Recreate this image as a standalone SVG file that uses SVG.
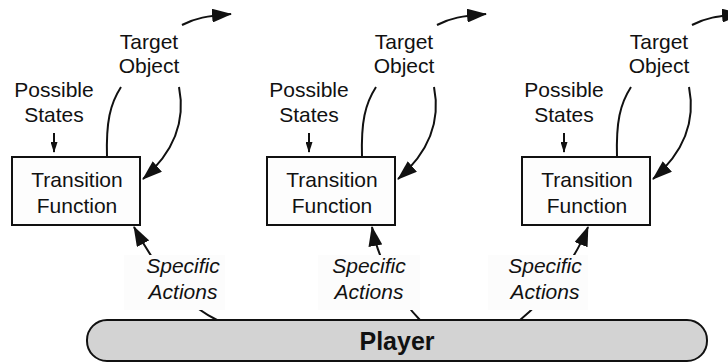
<svg xmlns="http://www.w3.org/2000/svg" width="728" height="362" viewBox="0 0 728 362">
<style>
text{font-family:"Liberation Sans",Arial,Helvetica,sans-serif;font-size:21px;fill:#111;text-anchor:middle}
.it{font-style:italic}
.box{fill:#fdfdfd;stroke:#111;stroke-width:2}
.ln{fill:none;stroke:#111;stroke-width:2}
.lbl{fill:#fcfcfc;stroke:none}
</style>
<defs>
<marker id="lg" viewBox="0 0 20 14" refX="19" refY="7" markerWidth="20" markerHeight="14" markerUnits="userSpaceOnUse" orient="auto"><path d="M0,0 L20,7 L0,14 z" fill="#111"/></marker>
<marker id="sm" viewBox="0 0 11 7" refX="10" refY="3.5" markerWidth="11" markerHeight="7" markerUnits="userSpaceOnUse" orient="auto"><path d="M0,0 L11,3.5 L0,7 z" fill="#111"/></marker>
</defs>
<g id="player">
<rect x="87" y="320" width="620" height="41" rx="20" ry="20" fill="#d3d3d3" stroke="#111" stroke-width="2"/>
<text x="397" y="350" style="font-weight:bold;font-size:25px">Player</text>
</g>
<g id="connectors">
<path class="ln" d="M54,133 L54,152" marker-end="url(#sm)"/>
<path class="ln" d="M309,133 L309,152" marker-end="url(#sm)"/>
<path class="ln" d="M564,133 L564,152" marker-end="url(#sm)"/>
<path class="ln" d="M107,157 C106,122 110,104 121,87"/>
<path class="ln" d="M362,157 C361,122 365,104 376,87"/>
<path class="ln" d="M617,157 C616,122 620,104 631,87"/>
<path class="ln" d="M179,87 C186,122 174,152 143,179" marker-end="url(#lg)"/>
<path class="ln" d="M434,87 C441,122 429,152 398,179" marker-end="url(#lg)"/>
<path class="ln" d="M689,87 C696,122 684,152 653,179" marker-end="url(#lg)"/>
<path class="ln" d="M182,25 C195,18 207,16 231,14" marker-end="url(#lg)"/>
<path class="ln" d="M437,25 C450,18 462,16 486,14" marker-end="url(#lg)"/>
<path class="ln" d="M692,25 C705,18 717,16 741,14" marker-end="url(#lg)"/>
<path class="ln" d="M217,320 C177,301 147,251 134,227" marker-end="url(#lg)"/>
<path class="ln" d="M420,320 C400,300 378,260 372,227" marker-end="url(#lg)"/>
<path class="ln" d="M520,320 C545,300 575,260 588,227" marker-end="url(#lg)"/>
</g>
<g id="labels1">
<rect class="lbl" x="124" y="255" width="101" height="55"/>
<text class="it" x="183" y="273">Specific</text>
<text class="it" x="183" y="299">Actions</text>
<text x="54" y="97">Possible</text>
<text x="54" y="122">States</text>
<text x="149" y="49">Target</text>
<text x="149" y="73">Object</text>
</g>
<g id="labels2">
<rect class="lbl" x="318" y="255" width="102" height="55"/>
<text class="it" x="369" y="273">Specific</text>
<text class="it" x="369" y="299">Actions</text>
<text x="309" y="97">Possible</text>
<text x="309" y="122">States</text>
<text x="404" y="49">Target</text>
<text x="404" y="73">Object</text>
</g>
<g id="labels3">
<rect class="lbl" x="488" y="255" width="100" height="55"/>
<text class="it" x="545" y="273">Specific</text>
<text class="it" x="545" y="299">Actions</text>
<text x="564" y="97">Possible</text>
<text x="564" y="122">States</text>
<text x="659" y="49">Target</text>
<text x="659" y="73">Object</text>
</g>
<g id="tf1">
<rect class="box" x="12" y="157" width="128" height="68"/>
<text x="77" y="187">Transition</text>
<text x="77" y="213">Function</text>
</g>
<g id="tf2">
<rect class="box" x="267" y="157" width="128" height="68"/>
<text x="332" y="187">Transition</text>
<text x="332" y="213">Function</text>
</g>
<g id="tf3">
<rect class="box" x="522" y="157" width="128" height="68"/>
<text x="587" y="187">Transition</text>
<text x="587" y="213">Function</text>
</g>
</svg>
